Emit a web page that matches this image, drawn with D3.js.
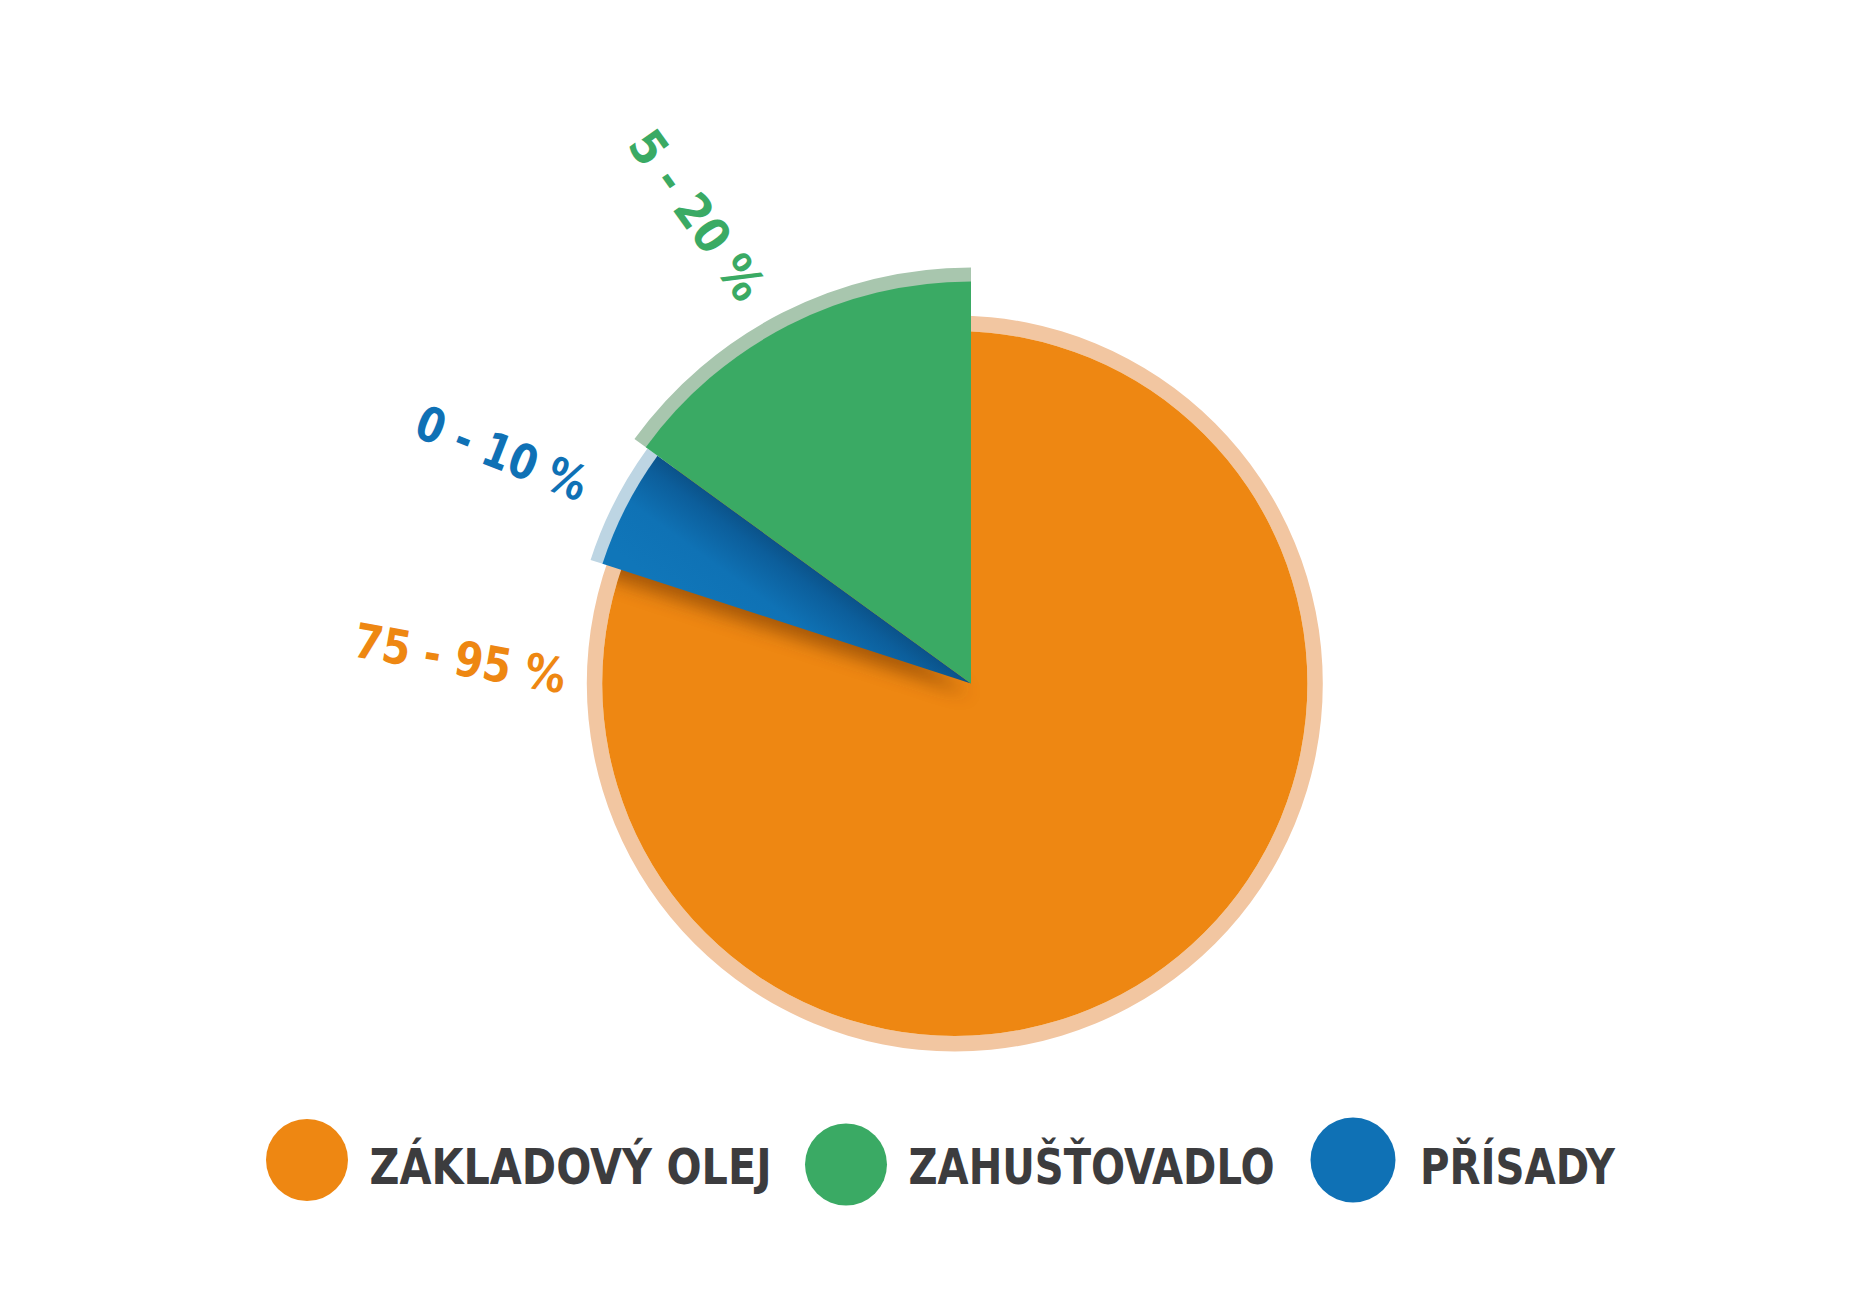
<!DOCTYPE html>
<html><head><meta charset="utf-8">
<script src="https://cdn.jsdelivr.net/npm/d3@7"></script>
<style>html,body{margin:0;padding:0;background:#fff;} svg{display:block}</style>
</head><body>
<svg id="chart" width="1857" height="1308"></svg>
<script>
// ---- data ----
const categories = ["ZÁKLADOVÝ OLEJ", "ZAHUŠŤOVADLO", "PŘÍSADY"];
const values = [80, 15, 5];
const rangeLabels = ["75 - 95 %", "5 - 20 %", "0 - 10 %"];
const colors = ["#ee8712", "#3aaa64", "#0f71b5"];
const ringColors = ["#f2c6a1", "#a8c6ae", "#bdd5e3"];
const clockwiseOrder = [0, 2, 1];

// ---- layout ----
const W = 1857, H = 1308;
const apex = [971, 683.5];
const baseCenter = [954.8, 683.5];
const sliceR = [352.5, 402, 387.5];
const ringR = [368, 416, 400];
const labelPos = [[460, 658], [697, 215], [502, 453]];
const labelRot = [10, 54.5, 21.5];
const labelLen = [214, 196, 180];
const legendCX = [307, 846, 1353];
const legendCY = [1160, 1164.5, 1160];
const legendR = [41, 41, 42.5];
const legendTX = [369.5, 908.5, 1420];
const legendLen = [402, 366, 195];

const svg = d3.select("#chart");
svg.append("rect").attr("width", W).attr("height", H).attr("fill", "#fff");
const defs = svg.append("defs");

const items = categories.map((c, i) => ({key: i, name: c, value: values[i]}));
const pie = d3.pie().value(d => d.value)
  .sort((a, b) => clockwiseOrder.indexOf(a.key) - clockwiseOrder.indexOf(b.key));
const arcs = pie(items);
const byKey = k => arcs.find(a => a.data.key === k);

// blue gradient (dark along the edge next to green)
const blueArc = byKey(2);
const ua = blueArc.endAngle;
const nx = -Math.cos(ua), ny = -Math.sin(ua);
const grad = defs.append("linearGradient").attr("id", "blueGrad")
  .attr("gradientUnits", "userSpaceOnUse")
  .attr("x1", apex[0]).attr("y1", apex[1])
  .attr("x2", apex[0] + nx * 120).attr("y2", apex[1] + ny * 120);
grad.append("stop").attr("offset", 0).attr("stop-color", "#0a4676");
grad.append("stop").attr("offset", 0.28).attr("stop-color", "#0c5e9b");
grad.append("stop").attr("offset", 0.6).attr("stop-color", "#0f72b5");
grad.append("stop").attr("offset", 1).attr("stop-color", "#1076b9");

// shadow filter
const f = defs.append("filter").attr("id", "sh").attr("x", "-20%").attr("y", "-20%").attr("width", "140%").attr("height", "140%");
f.append("feGaussianBlur").attr("stdDeviation", 9);

// base (orange) disc with ring
const orange = byKey(0);
const baseG = svg.append("g").attr("transform", `translate(${baseCenter})`);
const fullArc = d3.arc();
baseG.append("path")
  .attr("d", fullArc({innerRadius: sliceR[0], outerRadius: ringR[0], startAngle: 0, endAngle: 2 * Math.PI}))
  .attr("fill", ringColors[0]);
baseG.append("path")
  .attr("d", fullArc({innerRadius: 0, outerRadius: sliceR[0], startAngle: orange.startAngle, endAngle: orange.startAngle + 2 * Math.PI}))
  .attr("fill", colors[0]);

defs.append("clipPath").attr("id", "baseClip")
  .append("circle").attr("cx", baseCenter[0]).attr("cy", baseCenter[1]).attr("r", sliceR[0]);

// shadow of the blue wedge onto orange
const topG = svg.append("g").attr("transform", `translate(${apex})`);
svg.insert("g", () => topG.node())
  .attr("clip-path", "url(#baseClip)")
  .append("path")
  .attr("transform", `translate(${apex[0] - 2},${apex[1] + 11})`)
  .attr("d", d3.arc().innerRadius(0).outerRadius(sliceR[2])(blueArc))
  .attr("fill", "#6a3300").attr("opacity", 0.55)
  .attr("filter", "url(#sh)");

// exploded slices (blue, green)
[2, 1].forEach(k => {
  const a = byKey(k);
  topG.append("path")
    .attr("d", d3.arc().innerRadius(sliceR[k] - 1).outerRadius(ringR[k])(a))
    .attr("fill", ringColors[k]);
  topG.append("path")
    .attr("d", d3.arc().innerRadius(0).outerRadius(sliceR[k])(a))
    .attr("fill", k === 2 ? "url(#blueGrad)" : colors[k]);
});

// range labels
const labelFont = "'DejaVu Sans Condensed', 'DejaVu Sans', sans-serif";
rangeLabels.forEach((t, i) => {
  svg.append("text")
    .attr("transform", `translate(${labelPos[i]}) rotate(${labelRot[i]})`)
    .attr("text-anchor", "middle")
    .attr("dominant-baseline", "central")
    .attr("font-family", labelFont)
    .attr("font-weight", "bold")
    .attr("font-style", "normal")
    .attr("font-size", 48)
    .attr("textLength", labelLen[i])
    .attr("lengthAdjust", "spacingAndGlyphs")
    .attr("fill", colors[i])
    .text(t);
});

// legend
categories.forEach((c, i) => {
  svg.append("circle").attr("cx", legendCX[i]).attr("cy", legendCY[i]).attr("r", legendR[i]).attr("fill", colors[i]);
  svg.append("text")
    .attr("x", legendTX[i]).attr("y", 1183.5)
    .attr("font-family", labelFont)
    .attr("font-weight", "bold")
    .attr("font-size", 50)
    .attr("textLength", legendLen[i])
    .attr("lengthAdjust", "spacingAndGlyphs")
    .attr("fill", "#3c3c3e")
    .text(c);
});
</script>
</body></html>
